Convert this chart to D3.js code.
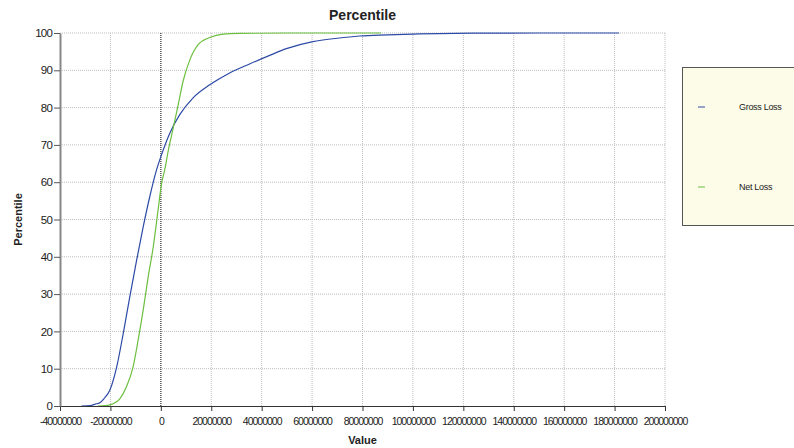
<!DOCTYPE html>
<html>
<head>
<meta charset="utf-8">
<script src="https://cdnjs.cloudflare.com/ajax/libs/d3/7.8.5/d3.min.js"></script>
<style>
  body { margin: 0; background: #fff; }
  text { font-family: "Liberation Sans", Arial, sans-serif; fill: #222; }
  .title { font-size: 14px; font-weight: bold; }
  .axisLabel { font-size: 11px; font-weight: bold; }
  .xTick text { font-size: 10.5px; letter-spacing: -1px; }
  .yTick text { font-size: 11.5px; letter-spacing: -0.8px; }
  .legendText { font-size: 9px; letter-spacing: -0.3px; }
</style>
</head>
<body>
<div id="chart"></div>
<script>
// Chart data (values in millions, percentile 0-100)
var seriesNames = ["Gross Loss", "Net Loss"];
var grossValues = [-31.5, -28, -26, -24.2, -22.5, -20.2, -17.5, -14.9, -12.3, -9.6, -7, -4.4, -1.7, 0.3, 3.6, 7.5, 12.8, 19.4, 27.3, 35.2, 43.2, 49.8, 60.3, 70, 78.8, 90, 99.9, 110, 123.6, 150, 181.8];
var grossPct    = [0, 0.1, 0.5, 0.9, 2, 4.3, 10.5, 19.5, 29.3, 39.1, 48, 56.1, 63.3, 67.4, 73.2, 78.1, 82.6, 86.1, 89.3, 91.7, 94.0, 95.8, 97.7, 98.6, 99.2, 99.5, 99.7, 99.85, 99.95, 100, 100];
var netValues   = [-25, -22, -20.2, -16.2, -13.6, -11, -9, -7, -5, -3, -1.1, 0.3, 1.6, 2.9, 4.9, 6.9, 8.8, 11.5, 14.8, 19.4, 24.7, 31.3, 50, 87.4];
var netPct      = [0, 0.1, 0.3, 2, 5.2, 10.5, 17.7, 25.7, 34.7, 42.7, 52.5, 59.7, 63.5, 68.3, 74.5, 80.8, 87, 92.8, 96.9, 98.8, 99.7, 99.9, 100, 100];
var xTicks = [-40, -20, 0, 20, 40, 60, 80, 100, 120, 140, 160, 180, 200];
var yTicks = [0, 10, 20, 30, 40, 50, 60, 70, 80, 90, 100];
var colors = ["#2c4aa6", "#6cbf3f"];

// Spacing
var margin = {top: 33, right: 129, bottom: 42, left: 60};
var width = 794 - margin.left - margin.right;
var height = 448 - margin.top - margin.bottom;

var svg = d3.select("#chart")
  .append("svg")
  .attr("width", 794)
  .attr("height", 448);

var g = svg.append("g")
  .attr("transform", "translate(" + margin.left + "," + margin.top + ")");

var xScale = d3.scaleLinear().domain([-40, 200]).range([0, width]);
var yScale = d3.scaleLinear().domain([0, 100]).range([height, 0]);

// Grid lines
g.selectAll(".vgrid")
  .data(xTicks.filter(function(d){ return d !== 0 && d !== -40; }))
  .enter().append("line")
  .attr("x1", function(d){ return xScale(d); })
  .attr("x2", function(d){ return xScale(d); })
  .attr("y1", 0).attr("y2", height)
  .attr("stroke", "#bdbdbd")
  .attr("stroke-dasharray", "1,1");

g.selectAll(".hgrid")
  .data(yTicks.filter(function(d){ return d !== 0; }))
  .enter().append("line")
  .attr("x1", 0).attr("x2", width)
  .attr("y1", function(d){ return yScale(d); })
  .attr("y2", function(d){ return yScale(d); })
  .attr("stroke", "#bdbdbd")
  .attr("stroke-dasharray", "1,1");

// Zero line
g.append("line")
  .attr("x1", xScale(0)).attr("x2", xScale(0))
  .attr("y1", 0).attr("y2", height)
  .attr("stroke", "#555")
  .attr("stroke-width", 1.5)
  .attr("stroke-dasharray", "1,1");

// Series lines
var line = d3.line()
  .x(function(d){ return xScale(d[0]); })
  .y(function(d){ return yScale(d[1]); })
  .curve(d3.curveMonotoneX);

var series = [d3.zip(grossValues, grossPct), d3.zip(netValues, netPct)];
g.selectAll(".series")
  .data(series)
  .enter().append("path")
  .attr("d", line)
  .attr("fill", "none")
  .attr("stroke", function(d, i){ return colors[i]; })
  .attr("stroke-width", 1.2);

// X axis
var xAxis = g.append("g")
  .attr("class", "xTick")
  .attr("transform", "translate(0," + height + ")")
  .call(d3.axisBottom(xScale).tickValues(xTicks).tickSize(5).tickSizeOuter(0)
    .tickFormat(function(d){ return d === 0 ? "0" : String(d * 1000000); }));
xAxis.select(".domain").attr("stroke", "#333");
xAxis.selectAll(".tick line").attr("stroke", "#333");
xAxis.selectAll(".tick text").attr("dy", "0.9em").attr("y", 10);

// Y axis
var yAxis = g.append("g")
  .attr("class", "yTick")
  .call(d3.axisLeft(yScale).tickValues(yTicks).tickSize(6).tickSizeOuter(0));
yAxis.select(".domain").attr("stroke", "#888").attr("stroke-width", 2);
yAxis.selectAll(".tick line").attr("stroke", "#555");
yAxis.selectAll(".tick text").attr("x", -8);

// Title and axis labels
svg.append("text")
  .attr("class", "title")
  .attr("x", margin.left + width / 2)
  .attr("y", 20)
  .attr("text-anchor", "middle")
  .text("Percentile");

svg.append("text")
  .attr("class", "axisLabel")
  .attr("transform", "translate(22," + (margin.top + height / 2) + ") rotate(-90)")
  .attr("text-anchor", "middle")
  .text("Percentile");

svg.append("text")
  .attr("class", "axisLabel")
  .attr("x", margin.left + width / 2)
  .attr("y", 444)
  .attr("text-anchor", "middle")
  .text("Value");

// Legend
svg.append("rect")
  .attr("x", 682.5).attr("y", 67.5)
  .attr("width", 130).attr("height", 158)
  .attr("fill", "#fdfce8")
  .attr("stroke", "#555");

var legendY = [107, 187];
seriesNames.forEach(function(name, i){
  svg.append("line")
    .attr("x1", 698).attr("x2", 705)
    .attr("y1", legendY[i]).attr("y2", legendY[i])
    .attr("stroke", colors[i]);
  svg.append("text")
    .attr("class", "legendText")
    .attr("x", 739).attr("y", legendY[i] + 3)
    .text(name);
});
</script>
</body>
</html>
